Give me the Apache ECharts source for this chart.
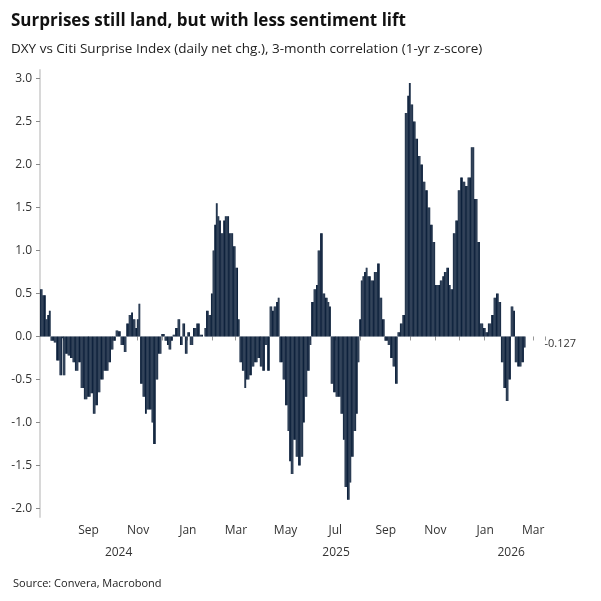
<!DOCTYPE html>
<html><head><meta charset="utf-8">
<script src="https://cdn.jsdelivr.net/npm/echarts@6/dist/echarts.min.js"></script>
<style>html,body{margin:0;padding:0;background:#fff}#c{width:601px;height:601px}</style>
</head><body><div id="c"></div>
<script>
var startDate = '2024-07-04';
var totalDays = 620;
var monthNames = ['Jan','Feb','Mar','Apr','May','Jun','Jul','Aug','Sep','Oct','Nov','Dec'];
var yTicks = [-2.0,-1.5,-1.0,-0.5,0.0,0.5,1.0,1.5,2.0,2.5,3.0];
var yearLabels = [['2024-10-08','2024'],['2025-07-02','2025'],['2026-02-02','2026']];
// segments: [start day offset, values held in equal steps until next segment]
var segStarts = [0,7,13,20,27,28,34,43,50,65,74,93,99,106,114,123,131,139,145,153,163,184,200,204,210,216,222,234,245,253,276,282,294,301,308,317,325,333,341,350,357,366,374,382,390,402,417,423,439,448,455,467,485,504,513,525,540,550,566,578,583,596];
var segValues = [
[0.55,0.48,0.48],[0.2,0.25,0.3],[-0.05,-0.07],[-0.28,-0.45],[-0.02],[-0.45,-0.2],
[-0.22,-0.25,-0.3],[-0.4,-0.3],[-0.6,-0.73,-0.7,-0.66],[-0.9,-0.8,-0.65],
[-0.5,-0.4,-0.4,-0.3,-0.15,-0.05],[0.07,0.06],[-0.1,-0.18],[0.15,0.25,0.28],
[0.2,0.1,0.2,0.38],[-0.55,-0.7,-0.9],[-0.85,-0.85,-1.0],[-1.25,-0.5],[-0.2,0.03],
[-0.05,-0.1,-0.15,-0.05],[0.02,0.1,0.2,-0.1,0.15,-0.2,0.05],[-0.1,0.1,0.15,0.02],
[0.0,0.1],[0.3,0.25],[0.5,1.0,1.3],[1.55,1.4,1.35],[1.2,1.35,1.4,1.4,1.2],
[1.2,1.05,0.8,0.2],[-0.3,-0.4,-0.6],[-0.5,-0.45,-0.35,-0.3,-0.25,-0.35,-0.4],
[-0.1,-0.4],[0.35,0.3,0.35,0.4,0.45],[-0.3,-0.5],[-0.8,-1.1,-1.45],[-1.6,-1.2,-1.4],
[-1.5,-1.4,-1.0],[-0.7,-0.4,-0.1],[0.4,0.55,0.6],[1.0,1.2,0.5],[0.45,0.4,0.35],
[-0.55,-0.65,-0.7],[-0.7,-0.9,-1.2],[-1.75,-1.9,-1.7],[-1.4,-1.1,-0.9],
[-0.3,0.2,0.65,0.7,0.75,0.8],[0.7,0.65,0.75,0.85],[0.45,0.2],
[-0.05,-0.1,-0.25,-0.35,-0.55],[0.05,0.15,0.25],[2.6,2.8,2.95],[2.7,2.5,2.3,2.1],
[2.0,1.8,1.7,1.5,1.3,1.1],[0.6,0.6,0.65,0.7,0.75,0.8,0.6],[0.55,1.2,1.35],
[1.7,1.85,1.8,1.75],[1.85,2.2,1.6,1.1],[0.15,0.1,0.05],[0.15,0.25,0.45,0.5,0.4],
[-0.3,-0.6,-0.75,-0.5],[0.35,0.3],[-0.3,-0.35,-0.35,-0.3,-0.127]
];
var lastLabel = '-0.127';

var cats = [];
var t0 = new Date(startDate + 'T00:00:00Z').getTime();
for (var i = 0; i < totalDays; i++) {
  cats.push(new Date(t0 + i * 86400000).toISOString().slice(0, 10));
}
var data = new Array(totalDays).fill(null);
for (var s = 0; s < segValues.length; s++) {
  var a = segStarts[s], b = segStarts[s + 1], vals = segValues[s];
  for (var d = a; d < b; d++) {
    var k = Math.min(vals.length - 1, Math.floor((d - a) * vals.length / (b - a)));
    data[d] = vals[k];
  }
}
var lastIdx = segStarts[segStarts.length - 1] - 1;
data[lastIdx] = {value: data[lastIdx], label: {show: true, position: 'right', offset: [14, 2], formatter: lastLabel, color: '#333', fontSize: 11}};
var yearMap = {};
yearLabels.forEach(function (y) { yearMap[y[0]] = y[1]; });

var chart = echarts.init(document.getElementById('c'));
var ff = '"Open Sans", "Noto Sans", sans-serif';
chart.setOption({
  animation: false,
  textStyle: {fontFamily: ff},
  title: [
    {text: 'Surprises still land, but with less sentiment lift', left: 6, top: 8, textStyle: {fontSize: 17, fontWeight: 'bold', color: '#111', fontFamily: ff}},
    {text: 'DXY vs Citi Surprise Index (daily net chg.), 3-month correlation (1-yr z-score)', left: 6, top: 37, textStyle: {fontSize: 13.5, fontWeight: 'normal', color: '#222', fontFamily: ff}},
    {text: 'Source: Convera, Macrobond', left: 8, top: 573, textStyle: {fontSize: 11, fontWeight: 'normal', color: '#222', fontFamily: ff}}
  ],
  grid: {left: 40, right: 56, top: 70, bottom: 84},
  xAxis: [{
    type: 'category', data: cats, position: 'bottom',
    axisLine: {show: false},
    axisTick: {show: true, length: 4, lineStyle: {color: '#999'}, interval: function (i, v) { return v.slice(8) === '01'; }},
    axisLabel: {color: '#333', fontSize: 12, margin: 8,
      interval: function (i, v) { var m = +v.slice(5, 7); return v.slice(8) === '01' && m % 2 === 1; },
      formatter: function (v) { return monthNames[+v.slice(5, 7) - 1]; }}
  }, {
    type: 'category', data: cats, position: 'bottom', offset: 22,
    axisLine: {show: false}, axisTick: {show: false},
    axisLabel: {color: '#333', fontSize: 12, interval: function (i, v) { return !!yearMap[v]; }, formatter: function (v) { return yearMap[v] || ''; }}
  }],
  yAxis: {
    type: 'value', min: -2.1, max: 3.1, interval: 0.5,
    splitLine: {show: false},
    axisLine: {show: true, lineStyle: {color: '#d8d8d8', width: 2}},
    axisTick: {show: true, length: 4, lineStyle: {color: '#888'}, customValues: yTicks},
    axisLabel: {color: '#333', fontSize: 12, formatter: function (v) { return v.toFixed(1); }, customValues: yTicks}
  },
  series: [{type: 'bar', data: data, barCategoryGap: 0, barGap: 0, itemStyle: {color: '#0b1f3a'}, xAxisIndex: 0}]
});
</script></body></html>
